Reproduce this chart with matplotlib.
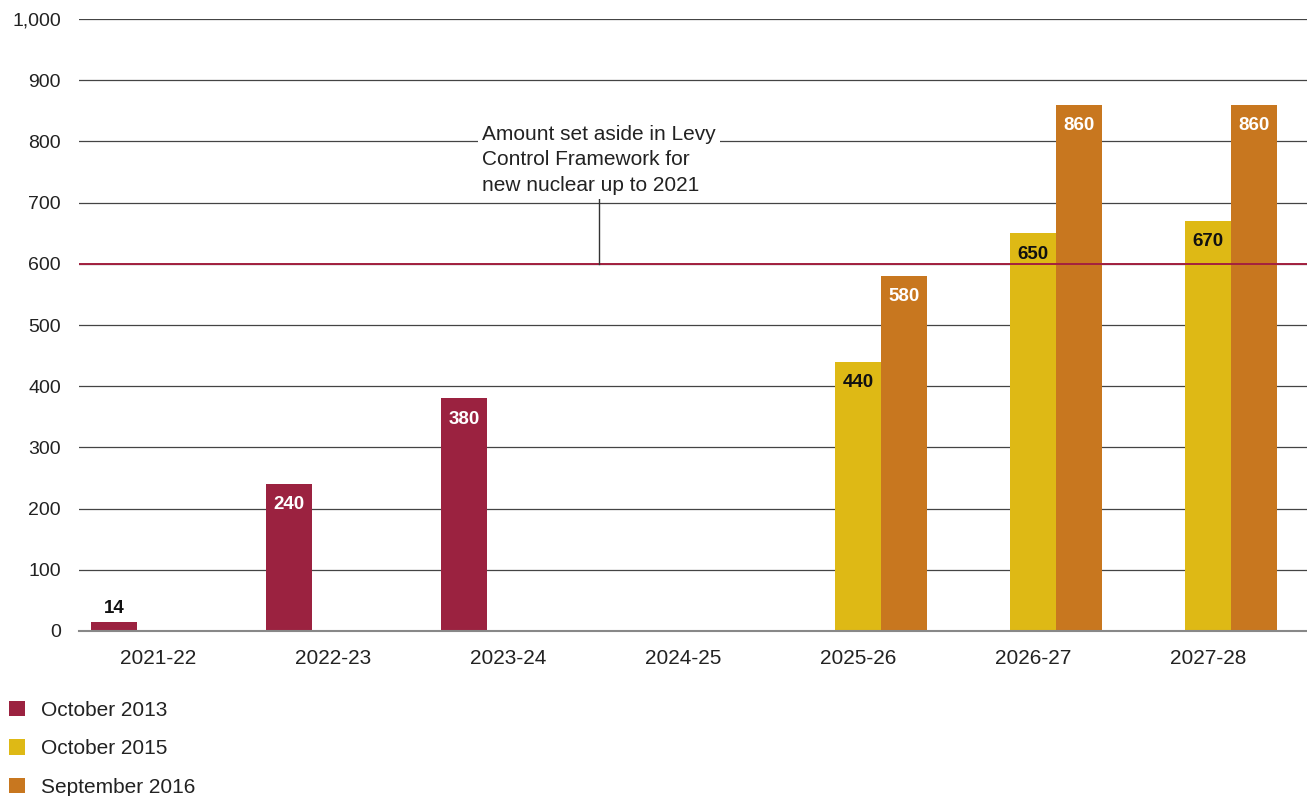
import matplotlib.pyplot as plt
import numpy as np

plt.rcParams['font.family'] = ['Liberation Sans', 'DejaVu Sans']

years = ['2021-22', '2022-23', '2023-24', '2024-25', '2025-26', '2026-27', '2027-28']
oct_2013 = [14, 240, 380, 0, 0, 0, 0]
oct_2015 = [0, 0, 0, 0, 440, 650, 670]
sep_2016 = [0, 0, 0, 0, 580, 860, 860]
series_names = ['October 2013', 'October 2015', 'September 2016']
levy_amount = 600

colors = ['#9B2240', '#DEB915', '#C8771F']
label_colors = ['white', '#111111', 'white']

fig = plt.figure(figsize=(13.07, 7.96), dpi=100)
ax = fig.add_axes([0.0604, 0.2073, 0.9396, 0.7688])

x = np.arange(len(years))
width = 0.262
offsets = [-0.25, 0, width]
handles = []
for vals, off, col, lcol, name in zip([oct_2013, oct_2015, sep_2016], offsets,
                                       colors, label_colors, series_names):
    bars = ax.bar(x + off, vals, width, color=col, zorder=2, label=name)
    handles.append(bars)
    for bx, v in zip(x + off, vals):
        if v == 0:
            continue
        if v < 50:
            # too short to hold the label, put it above
            ax.annotate(str(v), (bx, v), xytext=(0, 4), textcoords='offset points',
                        ha='center', va='bottom', fontsize=13.5, fontweight='bold',
                        color='#111111', zorder=4)
        else:
            ax.annotate(str(v), (bx, v), xytext=(0, -15), textcoords='offset points',
                        ha='center', va='center', fontsize=13.5, fontweight='bold',
                        color=lcol, zorder=4)

# Levy Control Framework allowance
ax.axhline(levy_amount, color='#A3203F', lw=1.4, zorder=3)
ax.plot([2.52, 2.52], [levy_amount, 708], color='#333333', lw=1, zorder=3)
ax.text(1.851, 770, 'Amount set aside in Levy\nControl Framework for\nnew nuclear up to 2021',
        ha='left', va='center', fontsize=15, color='#222222', linespacing=1.45,
        zorder=5, bbox=dict(facecolor='white', edgecolor='none', pad=3))

ax.set_xlim(-0.451, 6.566)
ax.set_ylim(0, 1000)
ax.set_yticks(range(0, 1001, 100))
ax.set_yticklabels([f'{v:,}' for v in range(0, 1001, 100)])
ax.set_xticks(x)
ax.set_xticklabels(years)

ax.yaxis.grid(True, color='#444444', lw=0.9, zorder=0)
ax.set_axisbelow(True)
for side in ['top', 'right', 'left']:
    ax.spines[side].set_visible(False)
ax.spines['bottom'].set_color('#888888')
ax.spines['bottom'].set_linewidth(1.5)
ax.spines['bottom'].set_zorder(3)
ax.tick_params(axis='both', length=0, labelcolor='#222222')
ax.tick_params(axis='y', pad=13, labelsize=14)
ax.tick_params(axis='x', pad=13, labelsize=15)

fig.legend(handles=handles, labels=series_names, loc='upper left',
           bbox_to_anchor=(-0.0075, 0.1435), frameon=False, fontsize=15,
           handlelength=0.75, handleheight=0.75, handletextpad=0.8,
           labelspacing=0.95, labelcolor='#222222')

fig.savefig('out.png', dpi=100, facecolor='white')
